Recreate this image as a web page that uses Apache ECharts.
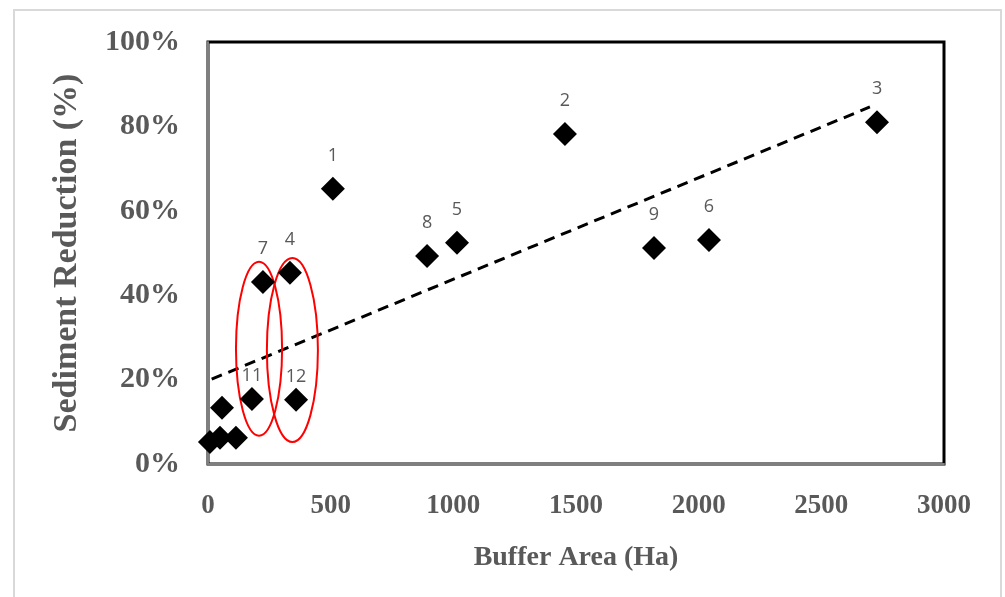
<!DOCTYPE html>
<html>
<head>
<meta charset="utf-8">
<script src="https://cdn.jsdelivr.net/npm/echarts@6/dist/echarts.min.js"></script>
<style>
  html, body { margin: 0; padding: 0; background: #fff; }
  #chart { width: 1005px; height: 597px; }
</style>
</head>
<body>
<div id="chart"></div>
<script>
// site number, buffer area (Ha), sediment reduction (%)
const siteLabels = ['1', '2', '3', '4', '5', '6', '7', '8', '9', '11', '12', '', '', '', ''];
const bufferArea = [509, 1455, 2727, 334, 1015, 2042, 224, 893, 1818, 179, 359, 57, 8, 49, 114];
const reduction = [65.2, 78.2, 81.0, 45.3, 52.4, 53.1, 43.1, 49.3, 51.2, 15.4, 15.2, 13.3, 5.2, 6.2, 6.2];

// linear trendline end points
const trendX = [15, 2698];
const trendY = [20.1, 84.6];

// red ellipses round sites 7/11 and 4/12 (centre + radii in data units)
const ellipseCx = [208, 344];
const ellipseCy = [27.3, 27.0];
const ellipseRx = [94, 104];
const ellipseRy = [20.6, 21.8];

const yTicks = [0, 20, 40, 60, 80, 100];
const xTicks = [0, 500, 1000, 1500, 2000, 2500, 3000];

const textGray = '#595959';
const serif = '"Liberation Serif", "Times New Roman", serif';
// these two labels sit closer to their markers
const nearLabels = ['11', '12'];

const chart = echarts.init(document.getElementById('chart'));

chart.setOption({
  backgroundColor: '#fff',
  animation: false,
  graphic: [{
    type: 'rect',
    shape: { x: 14, y: 10, width: 987, height: 620 },
    style: { fill: 'none', stroke: '#d9d9d9', lineWidth: 2 },
    silent: true,
    z: -10
  }],
  grid: {
    left: 208,
    right: 61,
    top: 42,
    bottom: 133,
    show: true,
    borderColor: '#000',
    borderWidth: 3
  },
  xAxis: {
    type: 'value',
    min: xTicks[0],
    max: xTicks[xTicks.length - 1],
    interval: 500,
    name: 'Buffer Area (Ha)',
    nameLocation: 'middle',
    nameGap: 80,
    nameTextStyle: { color: textGray, fontFamily: serif, fontWeight: 'bold', fontSize: 28 },
    axisLine: { show: true, lineStyle: { color: '#7f7f7f', width: 2 } },
    axisTick: { show: false },
    splitLine: { show: false },
    axisLabel: {
      color: textGray, fontFamily: serif, fontWeight: 'bold', fontSize: 27, margin: 29,
      formatter: (v) => String(v)
    }
  },
  yAxis: {
    type: 'value',
    min: yTicks[0],
    max: yTicks[yTicks.length - 1],
    interval: 20,
    name: 'Sediment Reduction (%)',
    nameLocation: 'middle',
    nameGap: 124,
    nameTextStyle: { color: textGray, fontFamily: serif, fontWeight: 'bold', fontSize: 34 },
    axisLine: { show: true, lineStyle: { color: '#7f7f7f', width: 2 } },
    axisTick: { show: false },
    splitLine: { show: false },
    axisLabel: {
      color: textGray, fontFamily: serif, fontWeight: 'bold', fontSize: 30, margin: 28,
      formatter: '{value}%'
    }
  },
  series: [
    {
      type: 'line',
      data: trendX.map((x, i) => [x, trendY[i]]),
      symbol: 'none',
      lineStyle: { color: '#000', width: 3, type: [11, 7] },
      z: 2
    },
    {
      type: 'custom',
      data: ellipseCx.map((cx, i) => [cx, ellipseCy[i], ellipseRx[i], ellipseRy[i]]),
      renderItem: (params, api) => {
        const c = api.coord([api.value(0), api.value(1)]);
        const s = api.size([api.value(2), api.value(3)]);
        return {
          type: 'ellipse',
          shape: { cx: c[0], cy: c[1], rx: s[0], ry: s[1] },
          style: { fill: 'none', stroke: '#ff0000', lineWidth: 2 }
        };
      },
      silent: true,
      z: 3
    },
    {
      type: 'scatter',
      symbol: 'diamond',
      symbolSize: 24,
      itemStyle: { color: '#000', opacity: 1 },
      data: bufferArea.map((x, i) => ({
        value: [x, reduction[i]],
        label: { distance: nearLabels.includes(siteLabels[i]) ? 2 : 12 }
      })),
      label: {
        show: true,
        position: 'top',
        formatter: (p) => siteLabels[p.dataIndex],
        color: textGray,
        fontFamily: '"Open Sans", "Liberation Sans", Arial, sans-serif',
        fontSize: 18
      },
      z: 4
    }
  ]
});
</script>
</body>
</html>
